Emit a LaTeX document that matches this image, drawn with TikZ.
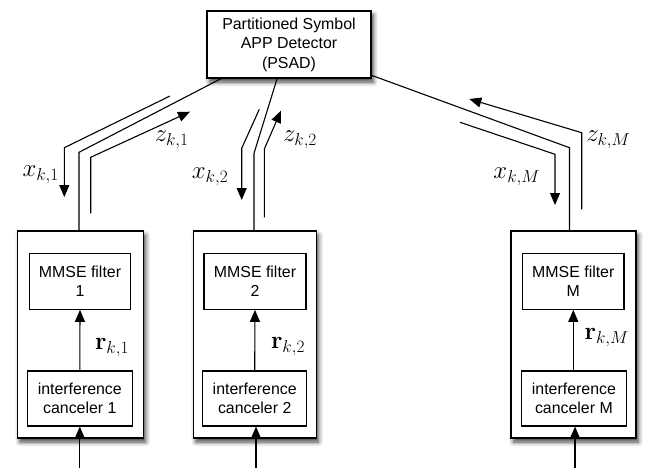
\documentclass[tikz,border=0pt]{standalone}
\usepackage[no-math]{fontspec}
\setmainfont{Liberation Sans}
\usetikzlibrary{arrows.meta,shadows.blur}
\tikzset{
  shd/.style={blur shadow={shadow xshift=2.5pt,shadow yshift=-4pt,shadow blur radius=4.5pt,shadow opacity=75}},
  blk/.style={draw,line width=1.1pt,fill=white,inner sep=0pt,align=center,
    font=\fontsize{15.9}{19.6}\selectfont},
  outerbox/.style={draw,line width=1.1pt,fill=white,inner sep=0pt,shd},
  conn/.style={line width=1.1pt},
  arr/.style={line width=1.1pt,-{Triangle[length=12pt,width=10pt]}},
  mlab/.style={inner sep=0pt,font=\fontsize{23.5}{28}\selectfont}
}
\begin{document}
\begin{tikzpicture}[x=1pt,y=-1pt]
\useasboundingbox (0,0) rectangle (652,468);
% top detector
\node[blk,minimum width=164pt,minimum height=67pt,shd]
  (psad) at (289,44.5) {Partitioned Symbol\\APP Detector\\(PSAD)};
% outer boxes
\node[outerbox,minimum width=126pt,minimum height=207pt] (o1) at (80.3,334.5) {};
\node[outerbox,minimum width=122.7pt,minimum height=207pt] (o2) at (254.7,334.5) {};
\node[outerbox,minimum width=125pt,minimum height=207pt] (o3) at (573.5,334.5) {};
% inner boxes
\node[blk,minimum width=101.4pt,minimum height=56pt] (m1) at (80,281.3) {MMSE filter\\1};
\node[blk,minimum width=102pt,minimum height=56pt] (m2) at (255,281.3) {MMSE filter\\2};
\node[blk,minimum width=101.3pt,minimum height=56pt] (m3) at (573.3,281.3) {MMSE filter\\M};
\node[blk,minimum width=105pt,minimum height=55pt] (c1) at (79.8,398.5) {interference\\canceler 1};
\node[blk,minimum width=104pt,minimum height=55pt] (c2) at (254.7,398.5) {interference\\canceler 2};
\node[blk,minimum width=104.3pt,minimum height=55pt] (c3) at (573.9,398.5) {interference\\canceler M};
% inner arrows
\draw[arr] (c1.north) -- (m1.south);
\draw[arr] (c2.north) -- (m2.south);
\draw[arr] (c3.north -| m3.south) -- (m3.south);
% bottom inputs
\coordinate (in1) at (79.8,468);
\coordinate (in2) at (256,468);
\coordinate (in3) at (575,468);
\draw[arr] (in1) -- (in1 |- c1.south);
\draw[arr] (in2) -- (in2 |- c2.south);
\draw[arr] (in3) -- (in3 |- c3.south);
% links between detector and branches
\coordinate (p1) at (222.3,78);
\coordinate (p2) at (277.3,78);
\coordinate (p3) at (370.7,75);
\draw[conn] (p1) -- (79,152.3) -- (79,231);
\draw[conn] (p2) -- (254,153.3) -- (254,231);
\draw[conn] (p3) -- (569.5,147.7) -- (569.5,231);
% x arrows
\coordinate (xa1) at (170,96);
\coordinate (xa2) at (259.3,109.3);
\coordinate (xa3) at (460,122.3);
\coordinate (xb1) at (64.3,197);
\coordinate (xb2) at (241.7,200);
\coordinate (xb3) at (555,205);
\draw[arr] (xa1) -- (64.3,147.7) -- (xb1);
\draw[arr] (xa2) -- (241.7,148.3) -- (xb2);
\draw[arr] (xa3) -- (555,154.3) -- (xb3);
% z arrows
\coordinate (za1) at (90.7,213.3);
\coordinate (za2) at (264.3,217.3);
\coordinate (za3) at (581.7,209.3);
\coordinate (zb1) at (190,111.7);
\coordinate (zb2) at (281,110.7);
\coordinate (zb3) at (469.3,99);
\draw[arr] (za1) -- (90.7,157.3) -- (zb1);
\draw[arr] (za2) -- (264.3,149) -- (zb2);
\draw[arr] (za3) -- (581.7,132.7) -- (zb3);
% labels
\node[mlab] (lx1) at (40.7,175) {$x_{k,1}$};
\node[mlab] (lz1) at (171.7,140) {$z_{k,1}$};
\node[mlab] (lx2) at (210,176.7) {$x_{k,2}$};
\node[mlab] (lz2) at (300,140) {$z_{k,2}$};
\node[mlab] (lx3) at (516.7,176.7) {$x_{k,M}$};
\node[mlab] (lz3) at (608.3,140) {$z_{k,M}$};
\node[mlab] (lr1) at (112,348) {$\mathbf{r}_{k,1}$};
\node[mlab] (lr2) at (288,347) {$\mathbf{r}_{k,2}$};
\node[mlab] (lr3) at (606.7,338) {$\mathbf{r}_{k,M}$};
\end{tikzpicture}
\end{document}
